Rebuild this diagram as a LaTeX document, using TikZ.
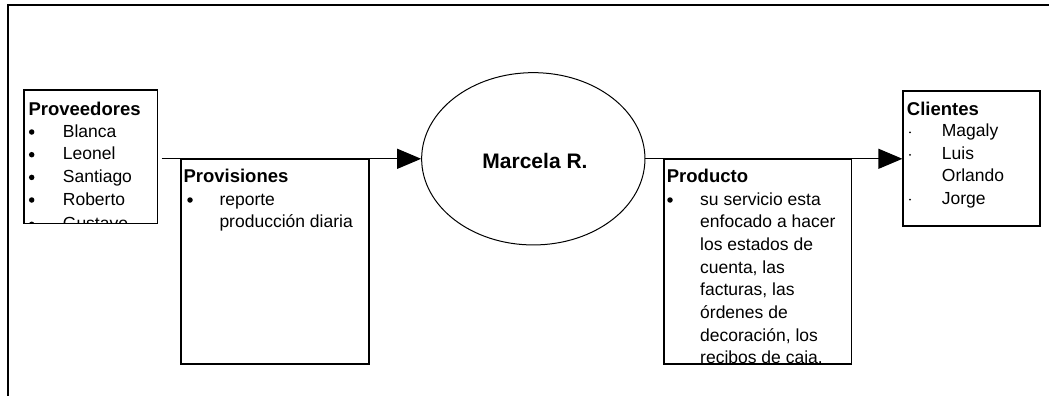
\documentclass[tikz,border=0pt]{standalone}
\usepackage{fontspec}
\setmainfont{Liberation Sans}
\usetikzlibrary{arrows.meta,shapes.geometric}
\begin{document}
\begin{tikzpicture}[x=1pt,y=-1pt,
  frame/.style={line width=1.4pt},
  box/.style={draw,line width=1.2pt,rectangle,inner sep=0pt},
  flow/.style={line width=1.2pt,-{Triangle[length=24pt,width=20pt]}},
  head/.style={anchor=base west,inner sep=0pt,font=\fontsize{18.5}{22}\selectfont\bfseries},
  item/.style={anchor=base west,inner sep=0pt,font=\fontsize{17.5}{22}\selectfont},
  bul/.style={circle,fill,inner sep=0pt,minimum size=5.5pt},
  dotmark/.style={circle,fill,inner sep=0pt,minimum size=2pt}]
\useasboundingbox (0,0) rectangle (1049,396);

% page frame (top and left edges)
\draw[frame] (1049,5) -- (8,5) -- (8,396);

% boxes and the central process
\node[box,minimum width=133.7pt,minimum height=133.5pt] (prov) at (90.85,156.75) {};
\node[box,minimum width=188pt,minimum height=205pt] (provis) at (275,261.5) {};
\node[box,minimum width=187.7pt,minimum height=205pt] (prod) at (757.85,261.5) {};
\node[box,minimum width=137pt,minimum height=135pt] (cli) at (971.5,158.5) {};
\node[draw,ellipse,line width=1pt,inner sep=0pt,minimum width=223.3pt,minimum height=172.3pt] (marc) at (533.3,158.8) {};
\node[inner sep=0pt,font=\fontsize{21}{24}\selectfont\bfseries] (marct) at (535,160.5) {Marcela R.};

% connectors
\coordinate (s1) at (161.7,158.8);
\draw[flow] (s1) -- (marc.west);
\draw[flow] (marc.east) -- (cli.west |- marc.east);

% Proveedores
\begin{scope}
  \clip (24.6,90.6) rectangle (157.1,222.9);
  \node[head] (provh) at (28.3,115) {Proveedores};
  \node[bul] (pb1) at (31.7,132) {};
  \node[bul] (pb2) at (31.7,154.7) {};
  \node[bul] (pb3) at (31.7,177.4) {};
  \node[bul] (pb4) at (31.7,200) {};
  \node[bul] (pb5) at (31.7,224.3) {};
  \node[item] (pt1) at (62.7,137) {Blanca};
  \node[item] (pt2) at (62.7,159.7) {Leonel};
  \node[item] (pt3) at (62.7,182.4) {Santiago};
  \node[item] (pt4) at (62.7,205.5) {Roberto};
  \node[item] (pt5) at (62.7,229.3) {Gustavo};
\end{scope}

% Provisiones
\begin{scope}
  \clip (181.6,159.6) rectangle (368.4,363.4);
  \node[head] (provish) at (183.3,182.7) {Provisiones};
  \node[bul] (vb1) at (190,200) {};
  \node[item] (vt1) at (219.3,205) {reporte};
  \node[item] (vt2) at (219.3,227.7) {producción diaria};
\end{scope}

% Producto
\begin{scope}
  \clip (664.6,159.6) rectangle (851.1,363.4);
  \node[head] (prodh) at (666.7,182.7) {Producto};
  \node[bul] (db1) at (670,200) {};
  \node[item] (dt1) at (700,205) {su servicio esta};
  \node[item] (dt2) at (700,227.7) {enfocado a hacer};
  \node[item] (dt3) at (700,250.3) {los estados de};
  \node[item] (dt4) at (700,273) {cuenta, las};
  \node[item] (dt5) at (700,295.7) {facturas, las};
  \node[item] (dt6) at (700,318.3) {órdenes de};
  \node[item] (dt7) at (700,341) {decoración, los};
  \node[item] (dt8) at (700,363.7) {recibos de caja.};
\end{scope}

% Clientes
\begin{scope}
  \clip (903.6,91.6) rectangle (1039.4,225.4);
  \node[head] (clih) at (906.7,115) {Clientes};
  \node[dotmark] (cb1) at (910,132.3) {};
  \node[dotmark] (cb2) at (910,154.9) {};
  \node[dotmark] (cb3) at (910,199.6) {};
  \node[item] (ct1) at (941.7,136.7) {Magaly};
  \node[item] (ct2) at (941.7,159.3) {Luis};
  \node[item] (ct3) at (941.7,181.7) {Orlando};
  \node[item] (ct4) at (941.7,204) {Jorge};
\end{scope}
\end{tikzpicture}
\end{document}
